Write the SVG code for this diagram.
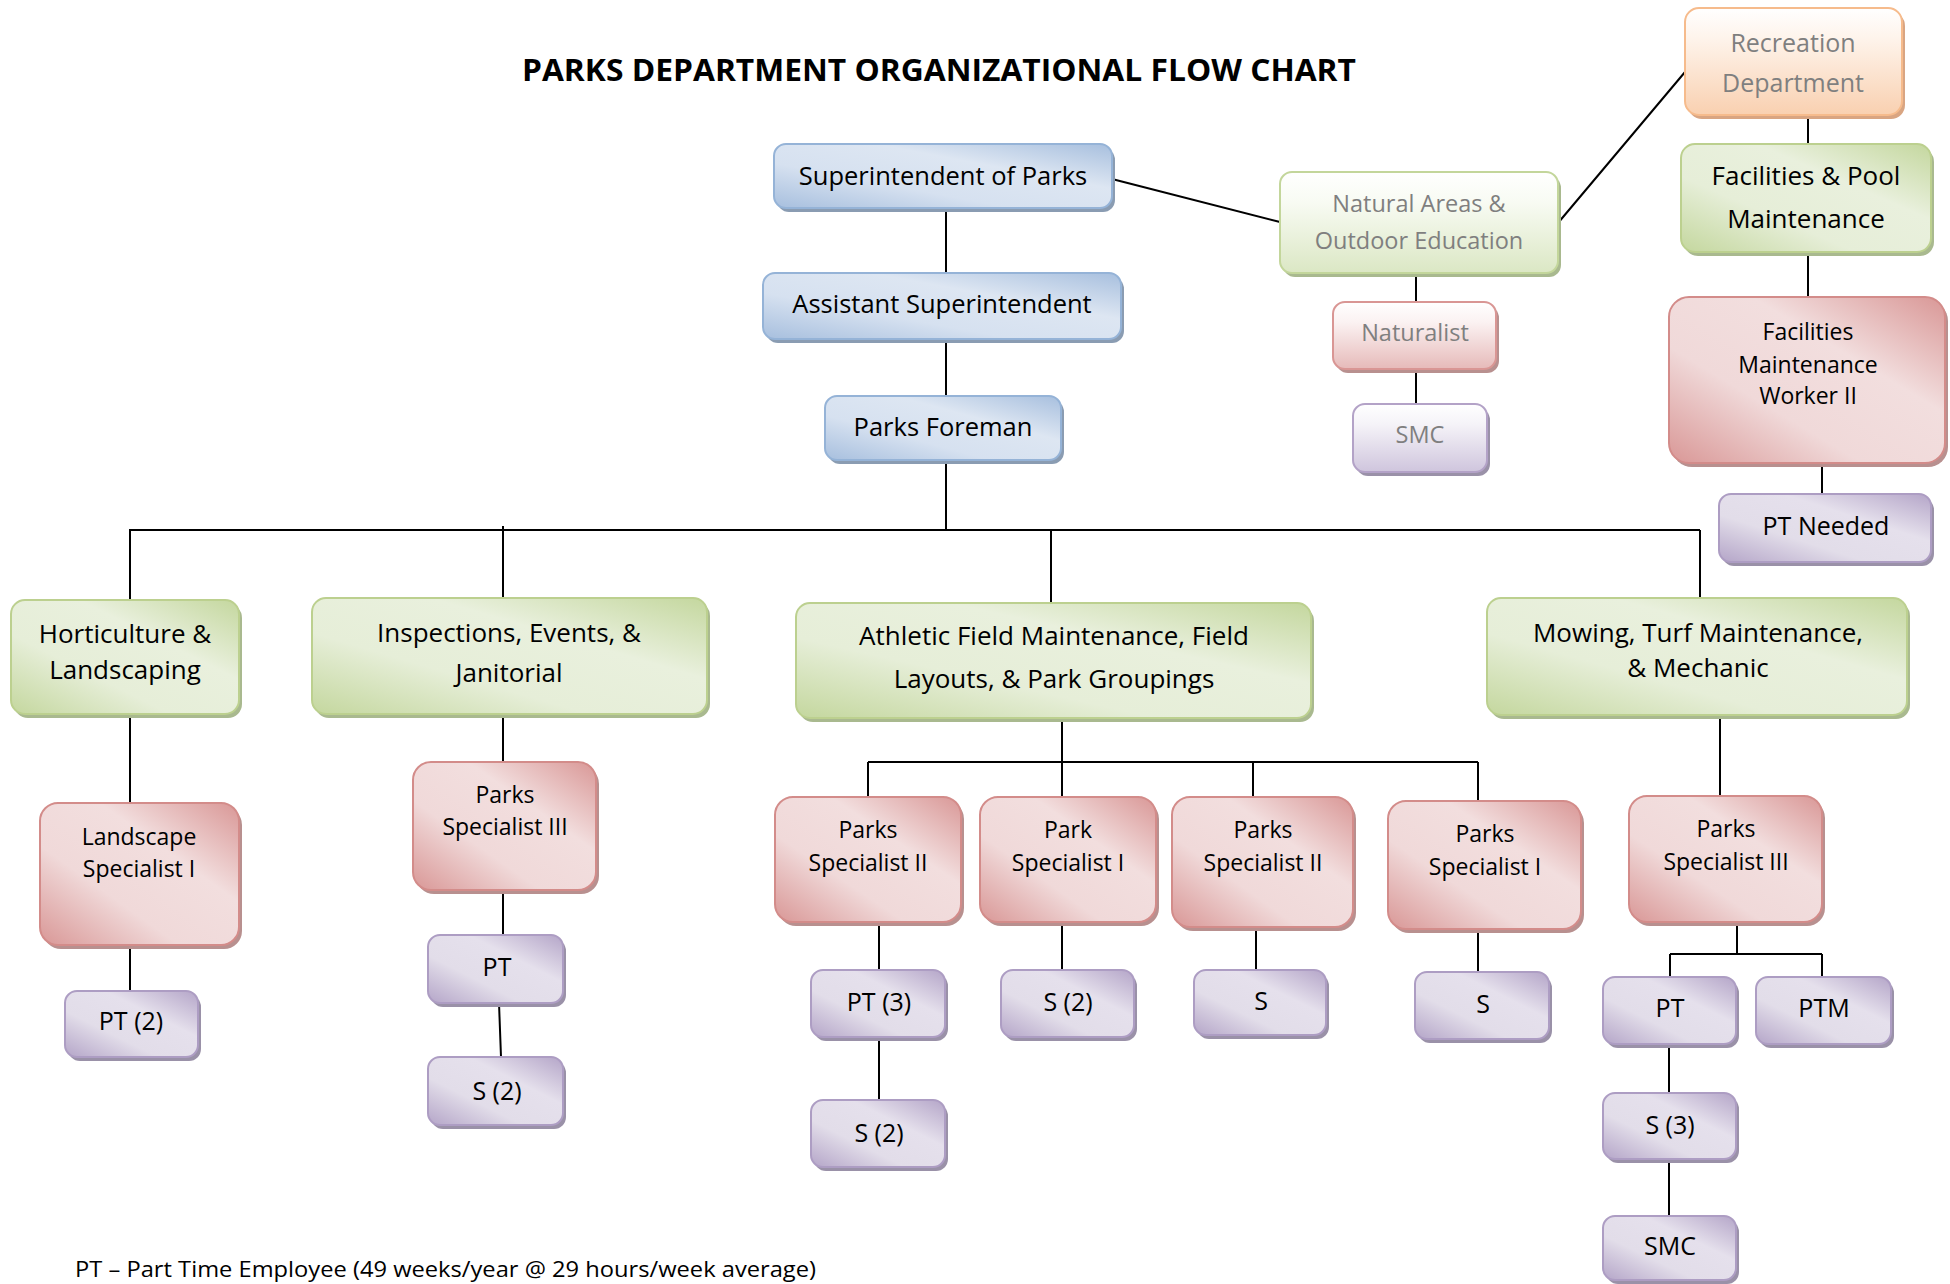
<svg xmlns="http://www.w3.org/2000/svg" width="1950" height="1284" viewBox="0 0 1950 1284">
<defs>
<linearGradient id="gBlue" x1="0" y1="1" x2="1" y2="0"><stop offset="0" stop-color="#a7bfde"/><stop offset="0.35" stop-color="#d6e1f0"/><stop offset="0.65" stop-color="#dde6f2"/><stop offset="1" stop-color="#a7bfde"/></linearGradient>
<linearGradient id="gGreen" x1="0" y1="1" x2="1" y2="0"><stop offset="0" stop-color="#c4d79e"/><stop offset="0.35" stop-color="#e6eed8"/><stop offset="0.65" stop-color="#e9f0dd"/><stop offset="1" stop-color="#c4d79e"/></linearGradient>
<linearGradient id="gRed" x1="0" y1="1" x2="1" y2="0"><stop offset="0" stop-color="#d99796"/><stop offset="0.35" stop-color="#f0d9d9"/><stop offset="0.65" stop-color="#f2dede"/><stop offset="1" stop-color="#d99796"/></linearGradient>
<linearGradient id="gPurple" x1="0" y1="1" x2="1" y2="0"><stop offset="0" stop-color="#b4a5c8"/><stop offset="0.35" stop-color="#e2dde9"/><stop offset="0.65" stop-color="#e5e0ec"/><stop offset="1" stop-color="#b4a5c8"/></linearGradient>
<linearGradient id="vGreen" x1="0" y1="0" x2="0" y2="1"><stop offset="0" stop-color="#ffffff"/><stop offset="0.3" stop-color="#f8fbf3"/><stop offset="1" stop-color="#dbe7c4"/></linearGradient>
<linearGradient id="vRed" x1="0" y1="0" x2="0" y2="1"><stop offset="0" stop-color="#ffffff"/><stop offset="0.3" stop-color="#fbf2f2"/><stop offset="1" stop-color="#e6bab9"/></linearGradient>
<linearGradient id="vPurple" x1="0" y1="0" x2="0" y2="1"><stop offset="0" stop-color="#ffffff"/><stop offset="0.3" stop-color="#f5f3f8"/><stop offset="1" stop-color="#cfc5dd"/></linearGradient>
<linearGradient id="vOrange" x1="0" y1="0" x2="0" y2="1"><stop offset="0" stop-color="#ffffff"/><stop offset="0.3" stop-color="#fef3ea"/><stop offset="1" stop-color="#f9d0b0"/></linearGradient>
</defs>
<style>
text{font-family:"Open Sans","Liberation Sans",sans-serif;text-anchor:middle;fill:#000}
.t{font-size:25.5px}
.g{font-size:26px}
.r{font-size:23px}
.p{font-size:25px}
.gray{fill:#7f7f7f;font-size:23.5px}
.blue{fill:url(#gBlue);stroke:#95b3d7;stroke-width:2}
.green{fill:url(#gGreen);stroke:#bcd08f;stroke-width:2}
.red{fill:url(#gRed);stroke:#d38c8a;stroke-width:2}
.purple{fill:url(#gPurple);stroke:#ad9dc3;stroke-width:2}
.vgreen{fill:url(#vGreen);stroke:#c3d69b;stroke-width:2}
.vred{fill:url(#vRed);stroke:#d99694;stroke-width:2}
.vpurple{fill:url(#vPurple);stroke:#b3a2c7;stroke-width:2}
.vorange{fill:url(#vOrange);stroke:#f6bb8c;stroke-width:2}
.sb{fill:#8a9cb2}
.sg{fill:#a9b98f}
.sr{fill:#b8908f}
.sp{fill:#9a91a8}
.so{fill:#d9a582}
.c{stroke:#000;stroke-width:2;fill:none}
.title{font-family:"Open Sans","Liberation Sans",sans-serif;font-weight:bold;font-size:30px}
.foot{font-family:"Open Sans","Liberation Sans",sans-serif;font-size:22px;text-anchor:start}
</style>
<rect width="1950" height="1284" fill="#ffffff"/>
<text class="title" x="939" y="81" textLength="834" lengthAdjust="spacingAndGlyphs">PARKS DEPARTMENT ORGANIZATIONAL FLOW CHART</text>

<g id="connectors">
<path class="c" d="M946 208V273M946 339V396M946 460V530M129 530H1700M130 530V600M503 526V598M1051 530V603M1700 530V598"/>
<path class="c" d="M130 714V803M503 714V762M1062 718V762M868 762H1478M868 762V797M1062 762V797M1253 762V797M1478 762V801M1720 715V796"/>
<path class="c" d="M130 945V991M503 890V935M499 1003L501 1057M879 922V970M879 1037V1100M1062 922V970M1256 927V970M1478 929V972"/>
<path class="c" d="M1737 922V954M1670 954H1822M1670 954V977M1822 954V977M1669 1044V1093M1669 1159V1216"/>
<path class="c" d="M1112 179L1280 222M1558 223L1685 72M1808 115V144M1808 252V297M1416 273V302M1416 369V404M1822 463V494"/>
</g>

<g id="n-sup"><rect class="sb" x="777" y="148" width="338" height="64" rx="12"/><rect class="blue" x="774" y="144" width="338" height="64" rx="12"/><text class="t" x="943" y="185">Superintendent of Parks</text></g>
<g id="n-asst"><rect class="sb" x="766" y="277" width="358" height="66" rx="12"/><rect class="blue" x="763" y="273" width="358" height="66" rx="12"/><text class="t" x="942" y="313">Assistant Superintendent</text></g>
<g id="n-foreman"><rect class="sb" x="828" y="400" width="236" height="64" rx="12"/><rect class="blue" x="825" y="396" width="236" height="64" rx="12"/><text class="t" x="943" y="436">Parks Foreman</text></g>

<g id="n-natural"><rect class="sg" x="1283" y="176" width="278" height="101" rx="12"/><rect class="vgreen" x="1280" y="172" width="278" height="101" rx="12"/><text class="gray" x="1419" y="212">Natural Areas &amp;</text><text class="gray" x="1419" y="249">Outdoor Education</text></g>
<g id="n-naturalist"><rect class="sr" x="1336" y="306" width="163" height="67" rx="12"/><rect class="vred" x="1333" y="302" width="163" height="67" rx="12"/><text class="gray" x="1415" y="341">Naturalist</text></g>
<g id="n-smc1"><rect class="sp" x="1356" y="408" width="134" height="68" rx="12"/><rect class="vpurple" x="1353" y="404" width="134" height="68" rx="12"/><text class="gray" x="1420" y="443">SMC</text></g>

<g id="n-recreation"><rect class="so" x="1688" y="12" width="217" height="107" rx="14"/><rect class="vorange" x="1685" y="8" width="217" height="107" rx="14"/><text class="gray" x="1793" y="52" style="font-size:25px">Recreation</text><text class="gray" x="1793" y="92" style="font-size:25px">Department</text></g>
<g id="n-facpool"><rect class="sg" x="1684" y="148" width="250" height="108" rx="14"/><rect class="green" x="1681" y="144" width="250" height="108" rx="14"/><text class="g" x="1806" y="185">Facilities &amp; Pool</text><text class="g" x="1806" y="228">Maintenance</text></g>
<g id="n-fmw"><rect class="sr" x="1672" y="301" width="276" height="166" rx="20"/><rect class="red" x="1669" y="297" width="276" height="166" rx="20"/><text class="r" x="1808" y="340">Facilities</text><text class="r" x="1808" y="373">Maintenance</text><text class="r" x="1808" y="404">Worker II</text></g>
<g id="n-ptneeded"><rect class="sp" x="1722" y="498" width="212" height="68" rx="12"/><rect class="purple" x="1719" y="494" width="212" height="68" rx="12"/><text class="p" x="1826" y="535">PT Needed</text></g>

<g id="n-hort"><rect class="sg" x="14" y="604" width="228" height="114" rx="14"/><rect class="green" x="11" y="600" width="228" height="114" rx="14"/><text class="g" x="125" y="643">Horticulture &amp;</text><text class="g" x="125" y="679">Landscaping</text></g>
<g id="n-insp"><rect class="sg" x="315" y="602" width="395" height="116" rx="14"/><rect class="green" x="312" y="598" width="395" height="116" rx="14"/><text class="g" x="509" y="642">Inspections, Events, &amp;</text><text class="g" x="509" y="682">Janitorial</text></g>
<g id="n-athletic"><rect class="sg" x="799" y="607" width="515" height="115" rx="14"/><rect class="green" x="796" y="603" width="515" height="115" rx="14"/><text class="g" x="1054" y="645">Athletic Field Maintenance, Field</text><text class="g" x="1054" y="688">Layouts, &amp; Park Groupings</text></g>
<g id="n-mowing"><rect class="sg" x="1490" y="602" width="420" height="117" rx="14"/><rect class="green" x="1487" y="598" width="420" height="117" rx="14"/><text class="g" x="1698" y="642">Mowing, Turf Maintenance,</text><text class="g" x="1698" y="677">&amp; Mechanic</text></g>

<g id="n-landspec"><rect class="sr" x="43" y="807" width="199" height="142" rx="18"/><rect class="red" x="40" y="803" width="199" height="142" rx="18"/><text class="r" x="139" y="845">Landscape</text><text class="r" x="139" y="877">Specialist I</text></g>
<g id="n-ps3-insp"><rect class="sr" x="416" y="766" width="183" height="128" rx="18"/><rect class="red" x="413" y="762" width="183" height="128" rx="18"/><text class="r" x="505" y="803">Parks</text><text class="r" x="505" y="835">Specialist III</text></g>
<g id="n-ps2-a"><rect class="sr" x="778" y="801" width="186" height="125" rx="18"/><rect class="red" x="775" y="797" width="186" height="125" rx="18"/><text class="r" x="868" y="838">Parks</text><text class="r" x="868" y="871">Specialist II</text></g>
<g id="n-ps1-b"><rect class="sr" x="983" y="801" width="176" height="125" rx="18"/><rect class="red" x="980" y="797" width="176" height="125" rx="18"/><text class="r" x="1068" y="838">Park</text><text class="r" x="1068" y="871">Specialist I</text></g>
<g id="n-ps2-c"><rect class="sr" x="1175" y="801" width="181" height="130" rx="18"/><rect class="red" x="1172" y="797" width="181" height="130" rx="18"/><text class="r" x="1263" y="838">Parks</text><text class="r" x="1263" y="871">Specialist II</text></g>
<g id="n-ps1-d"><rect class="sr" x="1391" y="805" width="193" height="128" rx="18"/><rect class="red" x="1388" y="801" width="193" height="128" rx="18"/><text class="r" x="1485" y="842">Parks</text><text class="r" x="1485" y="875">Specialist I</text></g>
<g id="n-ps3-mow"><rect class="sr" x="1632" y="800" width="193" height="126" rx="18"/><rect class="red" x="1629" y="796" width="193" height="126" rx="18"/><text class="r" x="1726" y="837">Parks</text><text class="r" x="1726" y="870">Specialist III</text></g>

<g id="n-pt2"><rect class="sp" x="68" y="995" width="133" height="66" rx="12"/><rect class="purple" x="65" y="991" width="133" height="66" rx="12"/><text class="p" x="131" y="1030">PT (2)</text></g>
<g id="n-pt-insp"><rect class="sp" x="431" y="939" width="135" height="68" rx="12"/><rect class="purple" x="428" y="935" width="135" height="68" rx="12"/><text class="p" x="497" y="976">PT</text></g>
<g id="n-s2-insp"><rect class="sp" x="431" y="1061" width="135" height="68" rx="12"/><rect class="purple" x="428" y="1057" width="135" height="68" rx="12"/><text class="p" x="497" y="1100">S (2)</text></g>
<g id="n-pt3"><rect class="sp" x="814" y="974" width="134" height="67" rx="12"/><rect class="purple" x="811" y="970" width="134" height="67" rx="12"/><text class="p" x="879" y="1011">PT (3)</text></g>
<g id="n-s2-ath"><rect class="sp" x="814" y="1104" width="134" height="67" rx="12"/><rect class="purple" x="811" y="1100" width="134" height="67" rx="12"/><text class="p" x="879" y="1142">S (2)</text></g>
<g id="n-s2-b"><rect class="sp" x="1004" y="974" width="133" height="67" rx="12"/><rect class="purple" x="1001" y="970" width="133" height="67" rx="12"/><text class="p" x="1068" y="1011">S (2)</text></g>
<g id="n-s-c"><rect class="sp" x="1197" y="974" width="132" height="65" rx="12"/><rect class="purple" x="1194" y="970" width="132" height="65" rx="12"/><text class="p" x="1261" y="1010">S</text></g>
<g id="n-s-d"><rect class="sp" x="1418" y="976" width="134" height="67" rx="12"/><rect class="purple" x="1415" y="972" width="134" height="67" rx="12"/><text class="p" x="1483" y="1013">S</text></g>
<g id="n-pt-mow"><rect class="sp" x="1606" y="981" width="133" height="67" rx="12"/><rect class="purple" x="1603" y="977" width="133" height="67" rx="12"/><text class="p" x="1670" y="1017">PT</text></g>
<g id="n-ptm"><rect class="sp" x="1759" y="981" width="135" height="67" rx="12"/><rect class="purple" x="1756" y="977" width="135" height="67" rx="12"/><text class="p" x="1824" y="1017">PTM</text></g>
<g id="n-s3"><rect class="sp" x="1606" y="1097" width="133" height="66" rx="12"/><rect class="purple" x="1603" y="1093" width="133" height="66" rx="12"/><text class="p" x="1670" y="1134">S (3)</text></g>
<g id="n-smc2"><rect class="sp" x="1606" y="1220" width="133" height="64" rx="12"/><rect class="purple" x="1603" y="1216" width="133" height="64" rx="12"/><text class="p" x="1670" y="1255">SMC</text></g>

<text class="foot" x="75" y="1277" textLength="741" lengthAdjust="spacingAndGlyphs">PT – Part Time Employee (49 weeks/year @ 29 hours/week average)</text>
</svg>
